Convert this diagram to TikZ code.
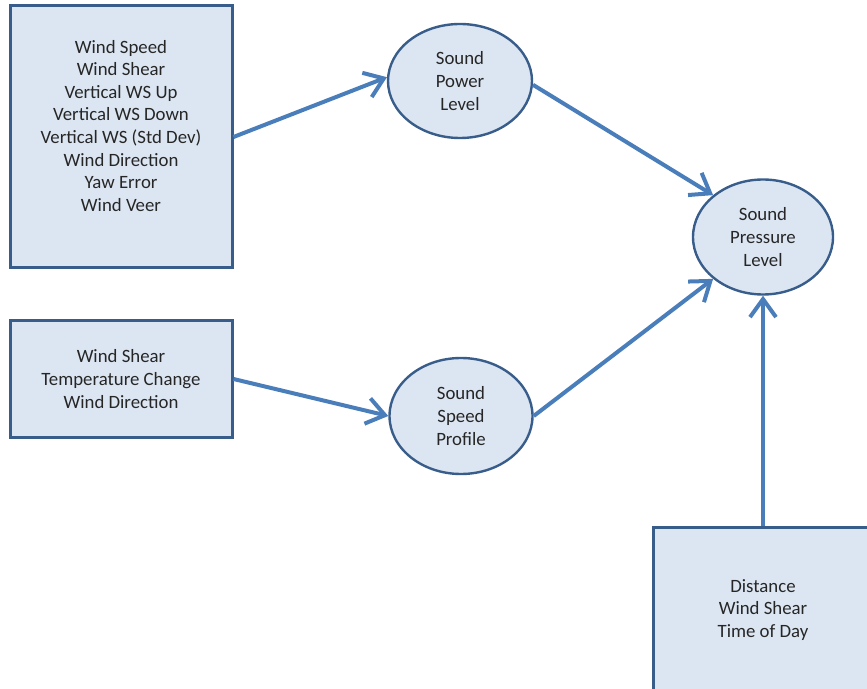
\documentclass[tikz,border=0pt]{standalone}
\usepackage{fontspec}
\setmainfont{Carlito}
\usetikzlibrary{shapes.geometric,arrows.meta}
\definecolor{boxfill}{HTML}{DCE6F2}
\definecolor{boxline}{HTML}{385D8A}
\definecolor{arrowblue}{HTML}{4A7EBB}
\definecolor{txt}{HTML}{262626}

\begin{document}
\begin{tikzpicture}[x=0.5pt, y=-0.5pt,
		box/.style={rectangle,draw=boxline,fill=boxfill,line width=1.5pt,align=center,inner sep=0pt,
			text=txt,font=\fontsize{9.4}{11.3}\selectfont},
		oval/.style={ellipse,draw=boxline,fill=boxfill,line width=1.2pt,align=center,inner sep=0pt,
			text=txt,font=\fontsize{9.4}{11.3}\selectfont},
		flow/.style={draw=arrowblue,line width=2pt,-{Straight Barb[length=9pt,width=13pt,line width=2pt]}}
		]
	\useasboundingbox (0,0) rectangle (867,689);
	\node [box,minimum width=111pt,minimum height=131pt] (in1) at (121,137)
	  {Wind Speed\\Wind Shear\\Vertical WS Up\\Vertical WS Down\\Vertical WS (Std Dev)\\Wind Direction\\Yaw Error\\Wind Veer\\\mbox{}};
	\node [box,minimum width=111pt,minimum height=58.5pt] (in2) at (121,379)
	  {Wind Shear\\Temperature Change\\Wind Direction};
	\node [box,minimum width=110pt,minimum height=83pt] (in3) at (763,610)
	  {Distance\\Wind Shear\\Time of Day};
	\node [oval,minimum width=72pt,minimum height=57pt] (swl) at (460,81) {Sound\\Power\\Level};
	\node [oval,minimum width=71.5pt,minimum height=58pt] (ssp) at (461,416) {Sound\\Speed\\Profile};
	\node [oval,minimum width=70pt,minimum height=57.5pt] (spl) at (763,237) {Sound\\Pressure\\Level};
	\draw [flow] (in1.east) -- (swl.177);
	\draw [flow] (swl.-3) -- (spl.140);
	\draw [flow] (in2.east) -- (ssp.west);
	\draw [flow] (ssp.east) -- (spl.220);
	\draw [flow] (in3.north) -- (spl.south);
\end{tikzpicture}
\end{document}
